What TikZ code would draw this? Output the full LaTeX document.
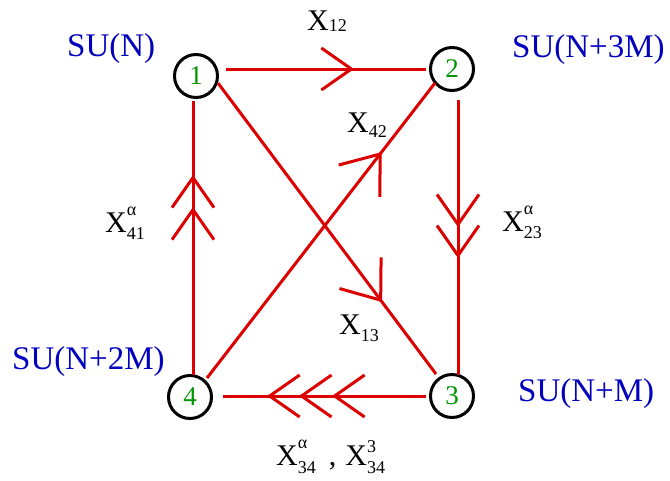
\documentclass[tikz,border=0pt]{standalone}
\usepackage{fontspec}
\setmainfont{Liberation Serif}
\usetikzlibrary{arrows.meta,decorations.markings}
\definecolor{redl}{RGB}{220,0,0}
\definecolor{bluel}{RGB}{0,0,190}
\definecolor{greenl}{RGB}{0,150,0}
\newcommand{\subsz}{\fontsize{18pt}{18pt}\selectfont}
\newcommand{\Xsub}[2]{X\raisebox{#2}{\subsz #1}}
\newcommand{\Xss}[4]{X\makebox[0pt][l]{\raisebox{#2}{\subsz #1}}\raisebox{#4}{\subsz #3}}
\tikzset{
  gnode/.style={circle, draw=black, line width=3pt, minimum size=43pt, inner sep=0pt,
    text=greenl, font=\fontsize{27pt}{27pt}\selectfont},
  grp/.style={text=bluel, font=\fontsize{33pt}{33pt}\selectfont, anchor=base west, inner sep=0pt},
  flab/.style={text=black, font=\fontsize{30pt}{30pt}\selectfont, anchor=base west, inner sep=0pt},
  redline/.style={draw=redl, line width=3pt},
  barb/.tip={Straight Barb[length=30pt,width=42pt,line cap=butt,line join=miter]},
  dbarb/.tip={Straight Barb[length=34pt,width=52pt,line cap=butt,line join=miter]},
  marks/.style={postaction={decorate}, decoration={markings, #1}}
}
\begin{document}
\begin{tikzpicture}[x=1pt,y=-1pt]
\useasboundingbox (0,0) rectangle (670,480);
\node[gnode] (n1) at (196,76) {1};
\node[gnode] (n2) at (452,69) {2};
\node[gnode] (n3) at (452,396) {3};
\node[gnode] (n4) at (190,397) {4};

% 1 -> 2
\draw[redline, marks={mark=at position 0.64 with {\arrow{barb}}}]
  ([shift={(30,-7)}]n1.center) -- ([shift={(-26,0)}]n2.center);
% 2 -> 3
\draw[redline, marks={mark=at position 0.462 with {\arrow{barb}}, mark=at position 0.575 with {\arrow{barb}}}]
  ([shift={(6,31)}]n2.center) -- ([shift={(6,-21)}]n3.center);
% 3 -> 4
\draw[redline, marks={mark=at position 0.463 with {\arrow{barb}}, mark=at position 0.626 with {\arrow{barb}}, mark=at position 0.783 with {\arrow{barb}}}]
  ([shift={(-26,0)}]n3.center) -- ([shift={(33,-1)}]n4.center);
% 4 -> 1
\draw[redline, marks={mark=at position 0.613 with {\arrow{barb}}, mark=at position 0.73 with {\arrow{barb}}}]
  ([shift={(3,-22)}]n4.center) -- ([shift={(-3,25)}]n1.center);
% 1 -> 3
\draw[redline, marks={mark=at position 0.753 with {\arrow{dbarb}}}]
  ([shift={(22,7)}]n1.center) -- ([shift={(-16,-22)}]n3.center);
% 4 -> 2
\draw[redline, marks={mark=at position 0.766 with {\arrow{dbarb}}}]
  ([shift={(17,-19)}]n4.center) -- ([shift={(-17,14)}]n2.center);

% group labels
\node[grp] (g1) at (67,56) {SU(N)};
\node[grp] (g2) at (512,57) {SU(N+3M)};
\node[grp] (g4) at (12,369) {SU(N+2M)};
\node[grp] (g3) at (518,401) {SU(N+M)};

% field labels
\node[flab] (x12) at (307,30) {\Xsub{12}{-1pt}};
\node[flab] (x42) at (347,132) {\Xsub{42}{-5pt}};
\node[flab] (x13) at (339,334) {\Xsub{13}{-7pt}};
\node[flab] (x41) at (105,232) {\Xss{α}{17pt}{41}{-7pt}};
\node[flab] (x23) at (502,231) {\Xss{α}{17pt}{23}{-7pt}};
\node[flab] (x34) at (276,465) {\Xss{α}{17pt}{34}{-8pt}\hspace{13pt},\hspace{9pt}\Xss{3}{13pt}{34}{-8pt}};
\end{tikzpicture}
\end{document}
